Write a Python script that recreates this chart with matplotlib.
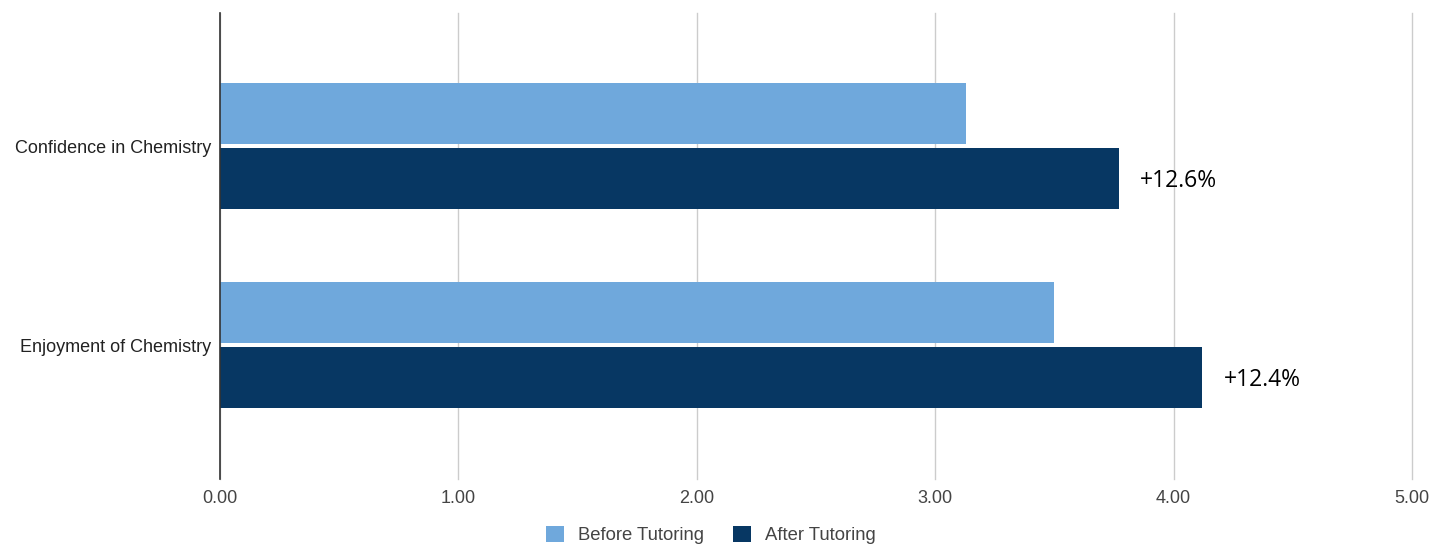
import matplotlib
matplotlib.use("Agg")
import matplotlib.pyplot as plt
import numpy as np
from matplotlib.patches import Patch

categories = ["Confidence in Chemistry", "Enjoyment of Chemistry"]
before = [3.13, 3.50]
after = [3.77, 4.12]
change_labels = ["+12.6%", "+12.4%"]
x_ticks = [0, 1, 2, 3, 4, 5]
x_tick_labels = ["0.00", "1.00", "2.00", "3.00", "4.00", "5.00"]

c_before = "#6FA8DC"
c_after = "#073763"

fig = plt.figure(figsize=(14.31, 5.44), dpi=100)
ax = fig.add_axes([220 / 1431, 65 / 544, 1192 / 1431, 466 / 544])

y = np.arange(len(categories))
h = 0.307
gap = 0.01
ax.barh(y - h / 2 - gap, before, height=h, color=c_before, label="Before Tutoring", zorder=3)
ax.barh(y + h / 2 + gap, after, height=h, color=c_after, label="After Tutoring", zorder=3)

for yi, v, lab in zip(y, after, change_labels):
    ax.text(v + 0.09, yi + h / 2 + gap + 0.01, lab, va="center", ha="left",
            fontsize=16.5, family="Open Sans", color="#000000")

ax.set_xlim(0, 5)
ax.set_ylim(1.672, -0.668)
ax.set_xticks(x_ticks)
ax.set_xticklabels(x_tick_labels, family="Liberation Sans", fontsize=13, color="#444444")
ax.set_yticks(y)
ax.set_yticklabels(categories, family="Liberation Sans", fontsize=13, color="#222222")
ax.tick_params(axis="y", length=0, pad=6.5)
ax.tick_params(axis="x", length=0, pad=8)

ax.grid(axis="x", color="#cccccc", linewidth=1, zorder=0)
for gl in ax.get_xgridlines():
    gl.set_clip_on(False)
for s in ["top", "right", "bottom"]:
    ax.spines[s].set_visible(False)
ax.spines["left"].set_color("#333333")
ax.spines["left"].set_linewidth(1.2)
ax.spines["left"].set_zorder(4)

handles = [Patch(facecolor=c_before, label="Before Tutoring"),
           Patch(facecolor=c_after, label="After Tutoring")]
fig.legend(handles=handles, loc="center", bbox_to_anchor=(711 / 1431, 1 - 535 / 544),
           ncol=2, frameon=False, prop={"family": "Liberation Sans", "size": 13.3},
           labelcolor="#444444", handlelength=0.95, handleheight=0.95,
           columnspacing=1.6, handletextpad=0.75)

fig.savefig("out.png", dpi=100)
